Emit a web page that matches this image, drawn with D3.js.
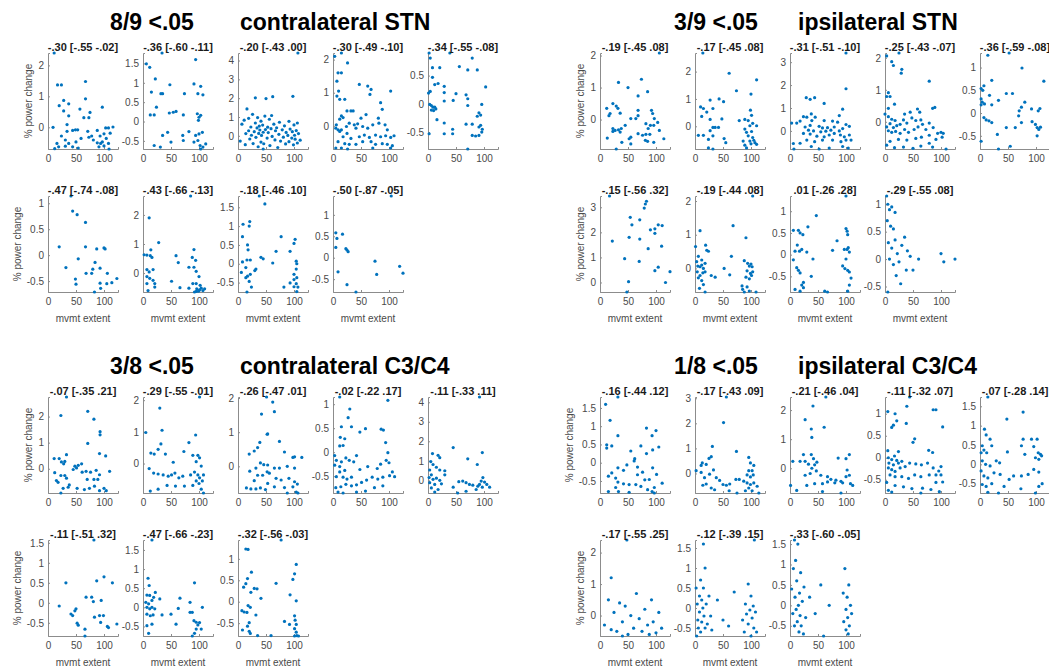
<!DOCTYPE html>
<html><head><meta charset="utf-8">
<script src="https://cdn.jsdelivr.net/npm/d3@7/dist/d3.min.js"></script>
<style>
body{margin:0;background:#fff}
text{font-family:"Liberation Sans",Arial,Helvetica,sans-serif}
</style>
</head><body>
<svg id="fig" width="1049" height="672"></svg>
<script>
// ---- contralateral STN ----
const contraSTN_titles = ["-.30 [-.55 -.02]","-.36 [-.60 -.11]","-.20 [-.43 .00]","-.30 [-.49 -.10]","-.34 [-.55 -.08]","-.47 [-.74 -.08]","-.43 [-.66 -.13]","-.18 [-.46 .10]","-.50 [-.87 -.05]"];
const contraSTN_yticks = [[0,1,2],[-0.5,0,0.5,1,1.5],[0,1,2,3,4],[0,1,2],[-0.5,0,0.5],[-0.5,0,0.5,1],[0,1,2],[-0.5,0,0.5,1,1.5],[-0.5,0,0.5,1]];
const contraSTN_pts = [
[[11,2.4],[17,1.37],[24,1.37],[67,1.48],[20,0.7],[28,0.87],[37,0.76],[67,0.92],[97,0.65],[28,0.53],[57,0.59],[37,0.37],[75,0.48],[64,0.31],[73,0.31],[9,0],[34,0.09],[49,-0.08],[53,-0.08],[24,-0.28],[34,-0.13],[44,-0.1],[71,-0.13],[78,-0.28],[88,-0.1],[93,-0.28],[100,-0.21],[108,-0.02],[116,0.01],[103,-0.02],[111,-0.19],[16,-0.52],[31,-0.41],[37,-0.52],[50,-0.47],[59,-0.36],[73,-0.32],[81,-0.41],[88,-0.5],[94,-0.52],[97,-0.47],[104,-0.36],[108,-0.52],[100,-0.6],[91,-0.63],[31,-0.61],[44,-0.63],[54,-0.67],[19,-0.63],[12,-0.69],[109,-0.7]],
[[6,1.49],[12,1.4],[34,1.77],[94,1.6],[22,1.1],[15,0.76],[32,0.72],[35,0.72],[48,0.95],[74,0.72],[91,0.97],[103,0.91],[98,0.72],[107,0.69],[24,0.37],[13,0.17],[20,0.17],[47,0.22],[54,0.24],[59,0.26],[72,0.17],[97,0.2],[100,0.11],[103,0.16],[99,0.03],[44,-0.28],[35,-0.36],[50,-0.53],[71,-0.36],[72,-0.49],[94,-0.36],[100,-0.32],[98,-0.49],[91,-0.53],[82,-0.26],[106,-0.28],[112,-0.58],[20,-0.62],[31,-0.66],[107,-0.66],[102,-0.62],[103,-0.71]],
[[4,-0.28],[7,0.62],[11,0.83],[13,-0.47],[14,0.12],[16,1.43],[19,0.27],[21,-0.17],[19,0.93],[23,0.47],[26,1.14],[24,0.03],[27,-0.41],[29,0.22],[31,2.02],[31,0.68],[32,-0.08],[34,0.42],[35,0.97],[37,0.13],[36,-0.58],[38,0.52],[39,0.31],[41,-0.33],[42,0.02],[41,0.78],[44,0.57],[45,0.19],[46,-0.42],[48,1.05],[50,1.98],[49,0.33],[52,-0.12],[53,0.46],[54,0.17],[56,0.88],[57,-0.52],[59,0.38],[60,1.08],[62,2.08],[61,-0.03],[64,0.62],[66,-0.22],[67,0.27],[69,0.43],[71,-0.62],[73,0.08],[74,0.72],[76,-0.28],[79,0.32],[81,-0.07],[83,0.53],[85,-0.43],[86,0.18],[89,0.02],[91,0.77],[91,-0.31],[93,0.36],[96,-0.12],[97,0.22],[98,2.1],[99,-0.48],[100,0.58],[101,0.03],[102,-0.18],[104,0.28],[106,0.68],[106,-0.38],[107,4.4],[108,0.12],[111,-0.23],[45,-0.7]],
[[3,2.1],[15,2.2],[9,1.6],[15,1.6],[26,1.9],[7,1.35],[10,1.05],[7,0.9],[12,0.8],[21,0.8],[62,1.2],[68,1.1],[66,0.95],[103,1.05],[47,1.25],[85,0.7],[88,0.5],[25,0.45],[32,0.45],[36,0.45],[15,0.3],[18,0.25],[59,0.34],[50,0.23],[81,0.23],[12,0.2],[6,0.03],[5,-0.07],[9,-0.12],[12,-0.17],[15,-0.12],[24,-0.02],[29,0.08],[38,0.03],[44,0.06],[41,-0.07],[53,-0.02],[62,-0.07],[71,0.03],[82,0.08],[93,0.03],[97,-0.12],[25,-0.23],[18,-0.33],[32,-0.38],[47,-0.33],[56,-0.28],[65,-0.35],[76,-0.28],[85,-0.33],[94,-0.3],[103,-0.35],[109,-0.3],[9,-0.48],[21,-0.54],[29,-0.56],[41,-0.56],[53,-0.48],[68,-0.48],[76,-0.56],[88,-0.54],[97,-0.56],[106,-0.6],[5,-0.67],[15,-0.67],[26,-0.7],[71,-0.67],[103,-0.67]],
[[2,0.9],[4,0.81],[39,0.9],[79,0.81],[8,0.64],[21,0.64],[56,0.66],[71,0.6],[88,0.6],[103,0.3],[8,0.47],[12,0.34],[18,0.36],[29,0.31],[4,0.22],[1,0.19],[29,0.2],[50,0.18],[68,0.16],[71,0.09],[3,-0.01],[6,-0.03],[9,-0.06],[12,-0.06],[6,-0.11],[10,-0.12],[14,-0.09],[29,0.05],[45,0.06],[71,-0.03],[96,-0.01],[91,-0.16],[94,-0.2],[88,-0.22],[16,-0.28],[29,-0.34],[68,-0.36],[79,-0.36],[94,-0.38],[91,-0.41],[97,-0.45],[96,-0.5],[91,-0.56],[44,-0.45],[44,-0.53],[29,-0.53],[2,-0.53],[79,-0.56],[85,-0.57],[71,-0.8]],
[[41,1.14],[44,0.85],[52,0.78],[67,0.63],[20,0.16],[67,0.16],[87,0.12],[100,0.14],[102,0.12],[32,-0.24],[54,-0.07],[68,-0.35],[78,-0.35],[84,-0.14],[93,-0.25],[106,-0.35],[123,-0.45],[114,-0.53],[105,-0.55],[94,-0.64],[83,-0.71],[49,-0.46],[50,-0.56],[80,-0.27],[93,-0.54]],
[[85,2.65],[11,1.9],[28,1.05],[2,0.63],[7,0.62],[13,0.6],[14,0.8],[16,0.54],[59,0.6],[63,0.36],[88,0.54],[91,0.81],[94,0.44],[91,0.2],[82,0.2],[95,0.06],[7,0.12],[11,0.04],[18,0.12],[51,-0.28],[7,-0.12],[12,-0.18],[18,-0.25],[21,-0.36],[7,-0.36],[9,-0.6],[21,-0.48],[66,-0.5],[82,-0.52],[89,-0.36],[95,-0.36],[100,-0.12],[96,-0.54],[92,-0.65],[101,-0.58],[104,-0.52],[107,-0.6],[95,-0.63],[99,-0.62],[110,-0.54],[102,-0.42]],
[[38,1.8],[48,1.59],[9,1.05],[21,1.12],[20,1.0],[8,0.72],[17,0.5],[18,0.37],[16,0.1],[22,0.1],[41,0.17],[8,0.05],[6,-0.23],[14,-0.1],[17,-0.33],[22,-0.28],[20,-0.47],[14,-0.37],[24,-0.62],[16,-0.75],[32,-0.14],[30,-0.18],[77,0.72],[102,0.65],[100,0.54],[93,0.33],[68,0.33],[62,0.02],[45,0.13],[104,0.07],[105,0.0],[104,-0.14],[100,-0.28],[105,-0.37],[100,-0.42],[104,-0.53],[93,-0.51],[82,-0.62],[100,-0.61],[107,-0.62],[105,-0.74]],
[[104,1.44],[5,0.58],[7,0.45],[17,0.55],[5,0.24],[23,0.21],[25,0.18],[27,0.14],[75,-0.08],[78,-0.39],[119,-0.2],[125,-0.36],[9,-0.33],[25,-0.63],[41,-0.8]]
];

// ---- ipsilateral STN ----
const ipsiSTN_titles = ["-.19 [-.45 .08]","-.17 [-.45 .08]","-.31 [-.51 -.10]","-.25 [-.43 -.07]","-.36 [-.59 -.08]","-.15 [-.56 .32]","-.19 [-.44 .08]",".01 [-.26 .28]","-.29 [-.55 .08]"];
const ipsiSTN_yticks = [[0,1,2],[0,1,2],[0,1,2,3],[0,1,2],[-0.5,0,0.5,1],[0,1,2,3],[0,1,2],[-0.5,0,0.5,1],[-0.5,0,0.5,1]];
const ipsiSTN_pts = [
[[106,2.08],[33,1.16],[50,1.0],[74,1.26],[85,0.87],[68,0.74],[12,0.35],[23,0.5],[29,0.42],[32,0.35],[18,0.19],[16,0.12],[36,0.2],[68,0.29],[92,0.29],[94,0.19],[55,0.03],[64,0.03],[68,0.12],[97,0.03],[45,-0.18],[82,-0.13],[23,-0.28],[27,-0.34],[33,-0.32],[38,-0.28],[23,-0.37],[36,-0.39],[86,-0.28],[90,-0.18],[96,-0.18],[103,-0.09],[106,-0.34],[68,-0.44],[76,-0.49],[82,-0.46],[89,-0.46],[55,-0.55],[52,-0.6],[39,-0.71],[13,-0.58],[55,-0.76],[81,-0.65],[85,-0.68],[96,-0.71],[114,-0.6],[29,-0.92]],
[[14,2.68],[61,1.94],[110,1.7],[74,1.3],[100,1.18],[10,0.71],[27,0.96],[43,1.0],[51,0.9],[15,0.65],[21,0.52],[32,0.65],[12,0.36],[27,0.25],[48,0.27],[79,0.21],[89,0.25],[99,0.59],[101,0.4],[95,0.21],[103,0.11],[110,0.02],[98,0.02],[32,-0.04],[36,-0.04],[42,-0.04],[27,-0.16],[6,-0.33],[15,-0.33],[24,-0.48],[32,-0.35],[52,-0.45],[55,-0.6],[89,-0.1],[92,-0.22],[95,-0.35],[101,-0.19],[103,-0.41],[105,-0.51],[98,-0.54],[100,-0.64],[107,-0.6],[86,-0.54],[89,-0.69],[92,-0.79],[24,-0.79],[32,-0.83],[110,-0.66]],
[[100,3.4],[100,1.84],[29,1.45],[36,1.38],[44,1.45],[61,1.2],[94,0.95],[88,0.67],[24,0.62],[30,0.6],[45,0.6],[38,0.74],[18,0.43],[12,0.34],[3,0.34],[39,0.45],[61,0.45],[76,0.43],[85,0.38],[100,0.28],[106,0.2],[36,0.24],[27,0.17],[52,0.2],[58,0.13],[67,0.14],[79,0.17],[33,0.03],[42,0],[55,-0.04],[64,-0.01],[73,0.03],[88,0],[94,0.1],[24,-0.11],[36,-0.14],[48,-0.23],[61,-0.26],[70,-0.18],[79,-0.11],[90,-0.18],[97,-0.26],[106,-0.18],[109,-0.4],[100,-0.4],[91,-0.47],[76,-0.4],[58,-0.4],[44,-0.47],[30,-0.4],[18,-0.54],[38,-0.68],[52,-0.79],[7,-0.79],[94,-0.68],[104,-0.75],[70,-0.75],[6,-0.55]],
[[3,2.06],[25,2.15],[12,1.88],[15,1.76],[30,1.64],[29,1.52],[79,1.27],[6,0.91],[3,0.79],[9,0.79],[17,0.55],[6,0.42],[35,0.24],[45,0.3],[58,0.4],[62,0.3],[85,0.42],[89,0.45],[0,0.24],[6,0.16],[12,0.08],[18,0.04],[9,-0.06],[3,-0.16],[15,-0.18],[21,-0.12],[27,-0.08],[33,0.06],[39,-0.04],[48,0.12],[55,0.04],[64,0.06],[6,-0.28],[12,-0.33],[19,-0.3],[27,-0.36],[35,-0.24],[42,-0.33],[52,-0.24],[59,-0.16],[67,-0.08],[73,-0.24],[79,-0.04],[86,-0.18],[94,-0.36],[100,-0.33],[104,-0.36],[102,-0.48],[91,-0.55],[79,-0.42],[65,-0.48],[55,-0.52],[39,-0.57],[24,-0.55],[9,-0.61],[3,-0.73],[17,-0.81],[33,-0.79],[50,-0.83],[64,-0.76],[85,-0.79],[109,-0.85],[79,-0.67]],
[[14,1.27],[52,1.32],[75,0.99],[114,0.7],[21,0.72],[2,0.54],[5,0.5],[7,0.6],[2,0.31],[4,0.24],[8,0.2],[2,0.18],[17,0.39],[21,0.18],[47,0.43],[58,0.43],[33,0.28],[80,0.24],[74,0.13],[70,0.05],[92,0.09],[104,0.05],[107,0.1],[7,-0.1],[11,-0.15],[16,-0.17],[21,-0.21],[69,-0.06],[74,-0.21],[93,-0.19],[99,-0.25],[102,-0.32],[105,-0.36],[108,-0.31],[47,-0.32],[63,-0.32],[31,-0.47],[2,-0.62],[33,-0.79],[102,-0.5],[54,-0.73]],
[[17,3.45],[83,3.24],[81,3.13],[79,2.97],[54,2.6],[57,2.3],[71,2.5],[22,1.65],[52,1.8],[71,1.73],[90,2.1],[98,2.14],[104,2.3],[111,2.27],[98,1.96],[86,1.35],[110,1.45],[44,0.95],[70,0.84],[98,0.47],[104,0.61],[125,0.43],[117,0],[51,0.03],[48,-0.38]],
[[103,2.15],[9,1.12],[68,1.27],[91,0.91],[1,0.65],[19,0.69],[21,0.54],[24,0.51],[6,0.36],[12,0.25],[18,0.15],[3,0.2],[5,0.07],[9,0.05],[12,0.1],[15,0],[4,-0.1],[9,-0.21],[14,-0.13],[18,-0.1],[6,-0.28],[12,-0.36],[15,-0.48],[8,-0.59],[18,-0.7],[29,-0.21],[36,-0.26],[52,0],[62,-0.19],[65,0.36],[88,0.23],[94,0.15],[97,0.07],[100,0.13],[102,0.05],[93,-0.07],[99,-0.15],[103,-0.1],[91,-0.26],[97,-0.31],[101,-0.21],[84,-0.52],[85,-0.62],[93,-0.55],[97,-0.67],[88,-0.7],[109,-0.7]],
[[100,1.35],[47,0.9],[6,0.56],[15,0.56],[18,0.5],[23,0.46],[32,0.64],[13,0.22],[9,0.08],[6,-0.12],[17,0.08],[21,0.12],[30,0.06],[41,-0.1],[12,-0.3],[15,-0.36],[18,-0.42],[38,-0.5],[24,-0.64],[21,-0.7],[9,-0.8],[18,-0.84],[24,-0.76],[62,-0.84],[67,-0.86],[84,0.32],[76,0.1],[100,0.6],[102,0.54],[103,0.46],[97,0.12],[102,0.12],[104,0.16],[106,0.06],[100,-0.1],[94,-0.26],[98,-0.32],[103,-0.36],[106,-0.4],[109,-0.54],[106,-0.7],[103,-0.84]],
[[3,1.15],[5,1.0],[8,0.9],[12,0.95],[4,0.7],[10,0.6],[15,0.55],[6,0.3],[12,0.2],[18,0.35],[22,0.1],[8,0.0],[15,-0.1],[25,-0.05],[30,0.25],[35,0.4],[40,0.15],[45,0.05],[20,-0.3],[28,-0.45],[50,-0.2],[60,0.0],[5,-0.6],[100,0.1],[105,-0.05],[125,0.0],[18,0.85],[38,-0.2]]
];

// ---- contralateral C3/C4 ----
const contraC34_titles = ["-.07 [-.35 .21]","-.29 [-.55 -.01]","-.26 [-.47 .01]","-.02 [-.22 .17]","-.11 [-.33 .11]","-.11 [-.51 .32]","-.47 [-.66 -.23]","-.32 [-.56 -.03]"];
const contraC34_yticks = [[0,1,2],[0,1,2],[0,1,2],[-0.5,0,0.5,1],[0,1,2,3,4],[-0.5,0,0.5,1,1.5],[-0.5,0,0.5,1,1.5],[-0.5,0,0.5,1]];
const contraC34_pts = [
[[33,2.75],[23,2.04],[71,2.2],[82,1.9],[93,1.42],[93,1.3],[71,0.97],[11,0.39],[20,0.39],[24,0.26],[30,0.28],[33,0.54],[28,0.19],[92,0.58],[103,0.49],[12,-0.15],[23,-0.26],[15,-0.45],[18,-0.52],[30,-0.26],[33,-0.36],[38,-0.62],[45,-0.03],[51,0.03],[48,0.1],[54,0.13],[60,0.19],[61,-0.13],[68,-0.1],[70,-0.41],[76,-0.13],[82,-0.41],[86,-0.06],[92,-0.23],[89,-0.41],[110,-0.1],[36,-0.71],[27,-0.75],[52,-0.75],[65,-0.8],[74,-0.75],[83,-0.67],[92,-0.84],[100,-0.75],[104,-0.84],[23,-0.93]],
[[101,2.1],[30,1.75],[34,1.05],[5,0.98],[32,0.62],[27,0.45],[40,0.3],[82,0.66],[94,0.9],[20,0.3],[14,0.33],[54,0.04],[89,0.26],[98,0.26],[95,0.06],[101,0.18],[73,0.38],[104,-0.08],[11,-0.16],[19,-0.3],[27,-0.33],[36,-0.36],[45,-0.4],[51,-0.36],[57,-0.3],[64,-0.45],[71,-0.4],[85,-0.36],[92,-0.27],[98,-0.36],[101,-0.45],[95,-0.55],[100,-0.63],[106,-0.55],[108,-0.36],[89,-0.69],[74,-0.71],[58,-0.71],[43,-0.69],[27,-0.81],[13,-0.87],[104,-0.81],[108,-0.93]],
[[51,2.03],[42,1.53],[52,0.94],[20,0.36],[29,0.45],[35,0.55],[39,0.7],[21,-0.14],[32,-0.05],[40,0.1],[46,0.05],[35,-0.26],[44,-0.26],[52,-0.16],[15,-0.63],[23,-0.66],[32,-0.66],[40,-0.63],[49,-0.68],[29,-0.42],[62,1.88],[65,1.6],[53,0.95],[74,0.73],[83,0.42],[98,0.26],[101,0.28],[114,0.26],[53,0.04],[65,-0.05],[74,-0.05],[88,0],[101,-0.05],[56,-0.2],[68,-0.35],[77,-0.4],[91,-0.35],[101,-0.45],[106,-0.52],[53,-0.5],[65,-0.6],[83,-0.62],[98,-0.6],[104,-0.75],[107,-0.78],[88,-0.78]],
[[12,1.15],[98,1.08],[30,0.9],[27,0.72],[15,0.53],[33,0.53],[48,0.42],[58,0.49],[86,0.48],[90,0.46],[13,0.31],[21,0.28],[18,0.14],[12,0.13],[94,0.2],[98,-0.01],[3,-0.07],[6,-0.17],[15,-0.2],[23,-0.12],[29,-0.17],[42,-0.07],[37,-0.2],[3,-0.27],[12,-0.3],[21,-0.38],[12,-0.41],[6,-0.51],[18,-0.52],[25,-0.56],[33,-0.52],[48,-0.36],[62,-0.3],[79,-0.34],[85,-0.25],[95,-0.17],[100,-0.22],[106,-0.41],[110,-0.51],[101,-0.49],[89,-0.52],[80,-0.56],[70,-0.52],[60,-0.58],[51,-0.63],[42,-0.68],[33,-0.7],[23,-0.67],[14,-0.72],[5,-0.74],[9,-0.83],[18,-0.85],[42,-0.83],[58,-0.81],[74,-0.74],[89,-0.7]],
[[92,4.27],[45,1.68],[71,1.1],[97,1.42],[88,0.81],[8,1.37],[18,1.28],[21,1.16],[5,0.96],[9,0.81],[15,0.67],[3,0.53],[21,0.53],[30,0.49],[30,0.28],[6,0.28],[2,0.14],[9,0.05],[15,0.11],[21,0],[3,-0.12],[12,-0.21],[24,-0.18],[6,-0.39],[18,-0.47],[12,-0.6],[45,-0.35],[55,-0.07],[62,-0.04],[68,-0.12],[74,-0.21],[80,-0.25],[89,-0.3],[92,-0.21],[95,-0.04],[98,0.14],[101,-0.09],[105,-0.21],[97,-0.35],[86,-0.47],[110,-0.35],[68,-0.56],[53,-0.65]],
[[82,1.57],[32,0.5],[87,0.55],[100,0.65],[115,0.5],[20,-0.08],[68,0.14],[78,0.14],[81,0.03],[95,0.06],[41,-0.28],[44,-0.32],[48,-0.2],[50,-0.15],[52,-0.51],[54,-0.56],[83,-0.36],[92,-0.32],[99,-0.32],[94,-0.49],[106,-0.59],[108,-0.62],[123,-0.53],[66,-0.66],[66,-0.83]],
[[16,1.76],[9,0.76],[11,0.57],[7,0.32],[12,0.31],[19,0.26],[22,0.39],[5,0.13],[10,0.09],[16,0.18],[30,0.22],[7,0],[12,-0.04],[16,0],[21,-0.04],[7,-0.18],[13,-0.22],[18,-0.2],[34,-0.2],[50,-0.18],[59,-0.44],[66,0.24],[63,-0.03],[92,0.64],[84,0.13],[84,-0.13],[88,-0.13],[91,-0.35],[95,-0.39],[98,-0.46],[101,-0.4],[104,-0.57],[106,0],[95,-0.57],[92,-0.68],[88,-0.75],[7,-0.48],[10,-0.68],[16,-0.44]],
[[77,1.44],[14,1.23],[18,1.22],[24,0.69],[10,0.34],[17,0.54],[14,0.42],[29,0.31],[23,0.22],[34,0.3],[41,0.08],[68,0.43],[104,0.87],[101,0.65],[98,0.52],[93,0.16],[104,0.02],[7,-0.21],[11,-0.24],[16,-0.25],[18,-0.09],[22,-0.13],[32,-0.31],[20,-0.49],[17,-0.57],[8,-0.66],[20,-0.69],[22,-0.74],[35,-0.79],[59,-0.79],[83,-0.46],[92,-0.53],[101,-0.33],[102,-0.43],[104,-0.53],[101,-0.63],[104,-0.71],[105,-0.79],[108,-0.8],[101,-0.8]]
];

// ---- ipsilateral C3/C4 ----
const ipsiC34_titles = ["-.16 [-.44 .12]","-.17 [-.43 .09]","-.21 [-.46 .04]","-.11 [-.32 .07]","-.07 [-.28 .14]","-.17 [-.55 .25]","-.12 [-.39 .15]","-.33 [-.60 -.05]"];
const ipsiC34_yticks = [[-0.5,0,0.5,1,1.5],[0,1,2,3],[0,1,2],[-0.5,0,0.5,1],[-0.5,0,0.5,1,1.5],[0,1,2],[-0.5,0,0.5,1,1.5],[-0.5,0,0.5,1,1.5]];
const ipsiC34_pts = [
[[32,1.8],[10,1.6],[18,1.16],[32,0.74],[12,0.49],[21,0.46],[12,0.4],[83,0.95],[100,0.88],[93,0.74],[73,0.46],[105,0.43],[55,0.32],[62,0.11],[83,0.25],[94,0.35],[32,-0.14],[42,-0.21],[48,-0.06],[61,0.05],[67,-0.12],[76,-0.26],[80,-0.47],[88,-0.46],[94,-0.14],[101,-0.32],[15,-0.37],[21,-0.28],[28,-0.42],[32,-0.53],[42,-0.58],[28,-0.68],[52,-0.6],[67,-0.33],[64,-0.6],[73,-0.65],[85,-0.74],[93,-0.79],[97,-0.68],[111,-0.56],[33,-0.79],[52,-0.81],[15,-0.79],[97,-0.83]],
[[56,3.05],[51,2.03],[31,1.08],[74,0.88],[13,0.42],[11,0.32],[20,0.36],[25,0.6],[29,0.67],[33,0.14],[11,0.04],[17,-0.17],[26,-0.03],[2,0.11],[38,-0.17],[44,-0.28],[50,-0.44],[56,-0.47],[62,-0.42],[14,-0.47],[20,-0.42],[29,-0.58],[35,-0.65],[61,-0.69],[73,-0.24],[79,-0.24],[96,0.64],[99,0.42],[105,0.32],[96,0.11],[102,0.11],[93,-0.06],[99,-0.14],[104,-0.06],[87,-0.31],[93,-0.38],[99,-0.44],[105,-0.38],[111,-0.51],[96,-0.58],[102,-0.69],[90,-0.69],[75,-0.78],[114,-0.78]],
[[64,2.45],[41,2.14],[27,1.67],[61,1.41],[38,1.35],[39,1.06],[24,0.47],[38,0.47],[42,0.33],[18,0.24],[27,0.24],[33,0.14],[44,0.12],[48,0.21],[39,0],[47,-0.09],[36,-0.18],[27,-0.24],[55,-0.24],[67,-0.29],[73,-0.38],[82,-0.41],[91,-0.45],[100,-0.29],[106,-0.24],[102,-0.06],[106,0.47],[100,0.33],[86,0.35],[108,-0.53],[112,-0.59],[94,-0.5],[80,-0.5],[67,-0.47],[58,-0.53],[44,-0.53],[30,-0.59],[12,-0.76],[58,-0.8],[91,-0.85],[5,0.24],[1,-0.59]],
[[44,1.38],[39,1.17],[86,1.09],[91,1.09],[5,1.05],[18,1.0],[21,0.84],[15,0.74],[12,0.69],[38,0.78],[103,0.7],[50,0.35],[53,0.43],[5,0.16],[24,0.14],[78,0.17],[85,0.12],[6,0],[12,-0.04],[17,0.04],[21,-0.06],[7,-0.12],[15,-0.16],[24,-0.12],[30,-0.08],[6,-0.23],[12,-0.27],[18,-0.31],[27,-0.23],[36,-0.2],[44,-0.12],[55,-0.14],[65,-0.16],[76,-0.12],[86,-0.23],[96,-0.3],[100,-0.2],[9,-0.39],[18,-0.43],[30,-0.43],[42,-0.47],[53,-0.39],[64,-0.43],[79,-0.39],[91,-0.39],[100,-0.39],[103,-0.55],[91,-0.56],[3,-0.56],[18,-0.63],[33,-0.66],[48,-0.7],[67,-0.69],[82,-0.72],[6,-0.74],[12,-0.78],[97,-0.77],[64,-0.8]],
[[14,1.74],[77,1.35],[48,1.17],[8,0.91],[11,0.76],[18,0.65],[4,0.48],[7,0.37],[2,0.3],[12,0.3],[21,0.48],[29,0.09],[35,0.04],[49,0.32],[74,0.48],[77,0.65],[80,0.26],[92,0.65],[102,0.65],[96,0.46],[104,0.3],[108,0.26],[110,0.22],[105,0.13],[99,0.17],[4,0.09],[10,0],[18,-0.04],[2,-0.17],[7,-0.3],[14,-0.35],[25,-0.22],[36,-0.26],[52,-0.39],[60,-0.3],[74,-0.3],[86,-0.26],[96,-0.13],[105,-0.2],[4,-0.52],[11,-0.57],[21,-0.5],[43,-0.57],[73,-0.63],[105,-0.57],[111,-0.5],[14,-0.72],[33,-0.74],[99,-0.74]],
[[8,-0.3],[15,0.5],[20,1.2],[25,0.1],[30,-0.5],[35,0.4],[40,-0.2],[45,0.3],[48,2.4],[50,-0.6],[55,0.0],[60,-0.4],[65,0.7],[70,-0.1],[75,-0.5],[80,0.2],[85,-0.3],[88,-0.6],[92,0.5],[95,-0.2],[100,-0.55],[105,0.1],[110,-0.4],[40,-0.65],[20,-0.45]],
[[2,0.5],[4,0.1],[5,-0.3],[6,-0.5],[8,0.3],[8,-0.1],[10,0.7],[10,-0.6],[12,0.2],[12,-0.35],[14,0.0],[15,0.5],[16,-0.2],[18,1.0],[18,-0.5],[20,0.1],[22,-0.4],[25,0.3],[28,-0.2],[30,-0.55],[40,0.2],[50,-0.3],[60,-0.45],[70,0.4],[85,-0.3],[88,-0.6],[90,0.1],[92,-0.15],[95,0.6],[95,-0.4],[98,-0.05],[100,0.3],[100,-0.7],[102,-0.25],[104,0.05],[105,-0.5],[106,1.7],[108,-0.1],[110,-0.6],[15,1.6],[3,-0.7]],
[[3,0.4],[5,-0.2],[6,0.9],[8,-0.5],[9,0.2],[10,1.1],[11,-0.1],[12,0.6],[13,-0.4],[14,1.5],[15,0.0],[16,-0.65],[17,0.3],[18,-0.25],[19,0.8],[20,-0.5],[22,0.1],[24,-0.7],[25,0.45],[28,-0.3],[35,0.2],[45,-0.2],[55,0.5],[70,0.0],[95,0.3],[96,-0.4],[98,0.9],[100,-0.1],[100,-0.6],[102,0.2],[103,-0.3],[104,-0.7],[105,0.5],[106,-0.5],[108,0.0],[110,-0.2],[8,1.6],[60,-0.75]]
];

const xTicks = [0, 50, 100];
const xDomain = [0, 125];

const groups = [
  {count: "8/9 <.05", name: "contralateral STN",   titles: contraSTN_titles, yticks: contraSTN_yticks, pts: contraSTN_pts, gx: 0, gy: 0},
  {count: "3/9 <.05", name: "ipsilateral STN",     titles: ipsiSTN_titles,   yticks: ipsiSTN_yticks,   pts: ipsiSTN_pts,   gx: 1, gy: 0},
  {count: "3/8 <.05", name: "contralateral C3/C4", titles: contraC34_titles, yticks: contraC34_yticks, pts: contraC34_pts, gx: 0, gy: 1},
  {count: "1/8 <.05", name: "ipsilateral C3/C4",   titles: ipsiC34_titles,   yticks: ipsiC34_yticks,   pts: ipsiC34_pts,   gx: 1, gy: 1}
];

// layout
const L = {
  left0: 48, groupDX: 552, colDX: 95, axW: 70,
  top0: 48, groupDY: 344, rowDY: 143, axTop: 5, axBot: 101,
  perRow: 5
};
const AX = "#8c8c8c", TXT = "#4a4a4a", DOT = "#0072BD";

const svg = d3.select("#fig");

groups.forEach(g => {
  const gLeft = L.left0 + g.gx * L.groupDX;
  const gTop = L.top0 + g.gy * L.groupDY;

  // group headline
  svg.append("text").attr("x", 152 + g.gx * 564).attr("y", gTop - 18)
    .attr("text-anchor", "middle").attr("font-size", 23).attr("font-weight", "bold")
    .attr("fill", "#000").text(g.count);
  svg.append("text").attr("x", 240 + g.gx * 558).attr("y", gTop - 18)
    .attr("font-size", 23).attr("font-weight", "bold").attr("fill", "#000").text(g.name);

  g.pts.forEach((pts, i) => {
    const col = i % L.perRow, row = Math.floor(i / L.perRow);
    const x0 = gLeft + col * L.colDX;
    const T = gTop + row * L.rowDY;
    const y0 = T + L.axTop, y1 = T + L.axBot;

    const x = d3.scaleLinear().domain(xDomain).range([x0, x0 + L.axW]);
    const y = d3.scaleLinear().domain(d3.extent(pts, d => d[1])).range([y1, y0]);

    const panel = svg.append("g");

    // x axis
    const xa = panel.append("g").attr("transform", `translate(0,${y1})`)
      .call(d3.axisBottom(x).tickValues(xTicks).tickSize(-2).tickPadding(6).tickFormat(d3.format("d")));
    // y axis
    const ya = panel.append("g").attr("transform", `translate(${x0},0)`)
      .call(d3.axisLeft(y).tickValues(g.yticks[i]).tickSize(-2).tickPadding(4).tickFormat(v => String(v)));
    [xa, ya].forEach(a => {
      a.select(".domain").attr("stroke", AX).attr("stroke-width", 1);
      a.selectAll(".tick line").attr("stroke", AX);
      a.selectAll(".tick text").attr("fill", TXT).attr("font-size", 10)
        .attr("font-family", '"Liberation Sans",Arial,sans-serif');
    });

    // points
    panel.append("g").selectAll("circle").data(pts).join("circle")
      .attr("cx", d => x(d[0])).attr("cy", d => y(d[1])).attr("r", 1.6)
      .attr("fill", DOT);

    // panel title
    panel.append("text").attr("x", x0 + L.axW / 2).attr("y", T + 3)
      .attr("text-anchor", "middle").attr("font-size", 11).attr("font-weight", "bold")
      .attr("fill", "#1a1a1a").text(g.titles[i]);

    // axis labels
    if (row === 1) {
      panel.append("text").attr("x", x0 + L.axW / 2).attr("y", T + 131)
        .attr("text-anchor", "middle").attr("font-size", 10).attr("fill", TXT).text("mvmt extent");
    }
    if (col === 0) {
      let w = 0;
      ya.selectAll(".tick text").each(function () { w = Math.max(w, this.getComputedTextLength()); });
      const lx = x0 - 4 - w - 6;
      panel.append("text").attr("transform", `translate(${lx},${(y0 + y1) / 2}) rotate(-90)`)
        .attr("text-anchor", "middle").attr("font-size", 10).attr("fill", TXT).text("% power change");
    }
  });
});
</script>
</body></html>
